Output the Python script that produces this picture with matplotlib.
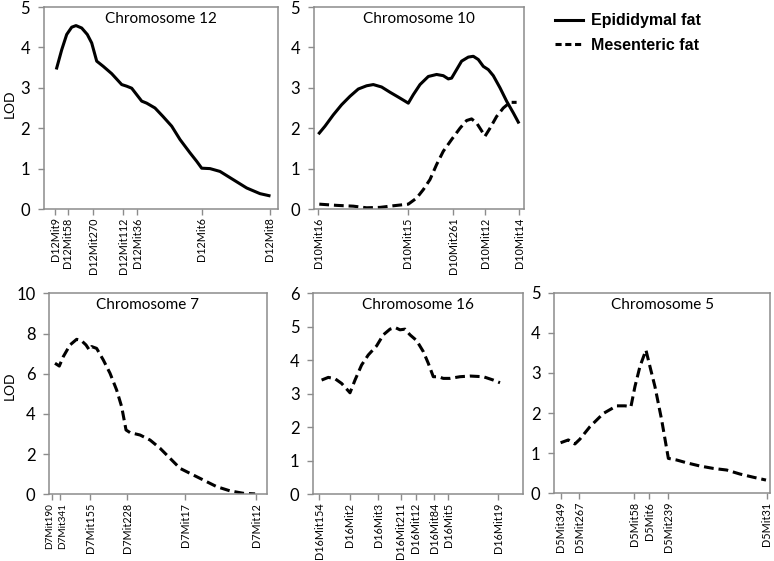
import matplotlib
matplotlib.use("Agg")
import matplotlib.pyplot as plt
from matplotlib.lines import Line2D
from matplotlib.transforms import ScaledTranslation

W, H = 774, 561

# ---------------- data ----------------
# Chromosome 12 (epididymal fat)
chr12_markers = ["D12Mit9", "D12Mit58", "D12Mit270", "D12Mit112", "D12Mit36", "D12Mit6", "D12Mit8"]
chr12_marker_pos = [0, 13, 38, 68, 82, 147, 215]
chr12_x = [1.7, 6.7, 11.7, 16.7, 21, 26.7, 32.3, 36.7, 41.7, 48.3, 56.7, 66.7, 71.7, 76.7, 81.7,
           86.7, 91.7, 100, 108, 116.7, 125, 135, 141.7, 146.7, 155, 165, 178, 191.7, 205, 214]
chr12_epi = [3.49, 3.94, 4.32, 4.50, 4.54, 4.48, 4.32, 4.11, 3.66, 3.53, 3.35, 3.08, 3.04, 2.99, 2.83,
             2.67, 2.62, 2.50, 2.29, 2.05, 1.72, 1.39, 1.18, 1.01, 1.00, 0.93, 0.73, 0.52, 0.38, 0.33]

# Chromosome 10 (both)
chr10_markers = ["D10Mit16", "D10Mit15", "D10Mit261", "D10Mit12", "D10Mit14"]
chr10_marker_pos = [0, 89.3, 135, 166.7, 201]
chr10_x_epi = [1, 6.7, 15, 23.3, 31.7, 40, 48.3, 55, 63.3, 71.7, 80, 86.7, 90, 95, 101.7, 110,
               118.3, 125, 130, 133.3, 138.3, 143.3, 150, 155, 160, 165, 170, 175, 181.7, 188.3,
               195, 200]
chr10_epi = [1.88, 2.05, 2.33, 2.58, 2.79, 2.97, 3.05, 3.08, 3.02, 2.89, 2.77, 2.67, 2.62, 2.83, 3.08,
             3.28, 3.33, 3.30, 3.22, 3.24, 3.45, 3.66, 3.76, 3.78, 3.70, 3.53, 3.45, 3.30, 3.00, 2.67,
             2.38, 2.15]
chr10_x_mes = [1, 18.3, 35, 48.3, 61.7, 75, 90, 98.3, 105, 111.7, 118.3, 125, 133.3, 141.7, 148.3,
               153.3, 158.3, 162.7, 166.7, 171.7, 178.3, 185, 191.7, 198.3]
chr10_mes = [0.12, 0.09, 0.07, 0.03, 0.04, 0.08, 0.12, 0.27, 0.48, 0.73, 1.10, 1.43, 1.72, 2.00, 2.19,
             2.23, 2.13, 1.96, 1.80, 2.00, 2.29, 2.50, 2.64, 2.64]

# Chromosome 7 (mesenteric fat)
chr7_markers = ["D7Mit190", "D7Mit341", "D7Mit155", "D7Mit228", "D7Mit17", "D7Mit12"]
chr7_marker_pos = [0, 7.7, 37.7, 75, 132.7, 203.7]
chr7_x = [2.7, 7, 11, 17.7, 24.3, 29, 33.7, 37, 39.3, 44.3, 51, 57.7, 64.3, 69.3, 73.7, 77.7, 87.7,
          97.7, 107.7, 117.7, 127.7, 137.7, 151, 164.3, 177.7, 191, 202.7]
chr7_mes = [6.52, 6.38, 6.85, 7.43, 7.71, 7.65, 7.43, 7.18, 7.35, 7.26, 6.68, 6.02, 5.19, 4.36, 3.20,
            3.07, 2.95, 2.70, 2.29, 1.79, 1.29, 1.04, 0.71, 0.38, 0.17, 0.05, 0.02]

# Chromosome 16 (mesenteric fat)
chr16_markers = ["D16Mit154", "D16Mit2", "D16Mit3", "D16Mit211", "D16Mit12", "D16Mit84", "D16Mit5", "D16Mit19"]
chr16_marker_pos = [0, 30.7, 59, 81.3, 96.3, 115, 129, 179]
chr16_x = [2.3, 9, 15.7, 22.3, 30.7, 35.7, 42.3, 49, 57.3, 64, 70.7, 75.7, 80.7, 85.7, 90.7, 97.3,
           104, 109, 114, 119, 124, 130.7, 140.7, 150.7, 164, 174, 180.7]
chr16_mes = [3.41, 3.49, 3.45, 3.31, 3.03, 3.41, 3.86, 4.16, 4.43, 4.76, 4.93, 4.98, 4.91, 4.93, 4.76,
             4.59, 4.26, 3.91, 3.51, 3.51, 3.46, 3.46, 3.51, 3.53, 3.51, 3.41, 3.33]

# Chromosome 5 (mesenteric fat)
chr5_markers = ["D5Mit349", "D5Mit267", "D5Mit58", "D5Mit6", "D5Mit239", "D5Mit31"]
chr5_marker_pos = [0, 18.7, 73.7, 88.7, 107.7, 206]
chr5_x = [0, 7.7, 14.3, 19.3, 29.3, 42.7, 56, 64.3, 70.3, 74.3, 79.3, 85.3, 89.3, 94.3, 101, 107.7,
          116, 126, 139.3, 152.7, 166, 179.3, 192.7, 205.3]
chr5_mes = [1.26, 1.33, 1.23, 1.35, 1.66, 1.99, 2.18, 2.18, 2.16, 2.66, 3.16, 3.57, 3.16, 2.66, 1.83,
            0.87, 0.83, 0.76, 0.68, 0.62, 0.58, 0.48, 0.40, 0.33]

legend_labels = ["Epididymal fat", "Mesenteric fat"]

# ---------------- style ----------------
LW = 2.2
DASH = (3.2, 1.6)
SPINE = "#8c8c8c"
TXT_FONT = ["Lato", "DejaVu Sans"]

fig = plt.figure(figsize=(W / 100, H / 100), dpi=100)


def make_ax(left, right, top, bottom):
    return fig.add_axes([left / W, 1 - bottom / H, (right - left) / W, (bottom - top) / H])


def style(ax, title, markers, mpos, xlim, ylim, yticks, title_x=0.5):
    ax.set_xlim(*xlim)
    ax.set_ylim(*ylim)
    ax.set_yticks(yticks)
    ax.set_yticklabels([str(v) for v in yticks], fontsize=12, family=TXT_FONT)
    ax.set_xticks(mpos)
    ax.set_xticklabels(markers, rotation=90, fontsize=7.8, family=TXT_FONT)
    for s in ax.spines.values():
        s.set_color(SPINE)
        s.set_linewidth(1.1)
    ax.tick_params(axis="both", color=SPINE, width=1.0, length=4, direction="out")
    ax.tick_params(axis="x", pad=2)
    ax.tick_params(axis="y", pad=6)
    ax.text(title_x, 0.975, title, transform=ax.transAxes, ha="center", va="top",
            fontsize=11, family=TXT_FONT)


# Chromosome 12
ax1 = make_ax(44, 278, 7, 209)
ax1.plot(chr12_x, chr12_epi, color="black", lw=LW)
style(ax1, "Chromosome 12", chr12_markers, chr12_marker_pos, (-11, 223), (0, 5), [0, 1, 2, 3, 4, 5])

# Chromosome 10
ax2 = make_ax(314, 524, 7, 209)
ax2.plot(chr10_x_epi, chr10_epi, color="black", lw=LW)
ax2.plot(chr10_x_mes, chr10_mes, color="black", lw=LW, linestyle=(0, DASH))
style(ax2, "Chromosome 10", chr10_markers, chr10_marker_pos, (-4.3, 205.7), (0, 5), [0, 1, 2, 3, 4, 5])

# Chromosome 7
ax3 = make_ax(49.3, 266.7, 293.3, 494.3)
ax3.plot(chr7_x, chr7_mes, color="black", lw=LW, linestyle=(0, DASH))
style(ax3, "Chromosome 7", chr7_markers, chr7_marker_pos, (-3, 214.3), (0, 10), [0, 2, 4, 6, 8, 10],
      title_x=0.45)
# the two closely spaced marker labels: nudge apart slightly
labs = ax3.get_xticklabels()
for lab, dx in ((labs[0], -2.2), (labs[1], 2.2)):
    lab.set_fontsize(7.2)
    lab.set_transform(lab.get_transform() + ScaledTranslation(dx / 100, 0, fig.dpi_scale_trans))

# Chromosome 16
ax4 = make_ax(313.3, 523.3, 293.3, 494.3)
ax4.plot(chr16_x, chr16_mes, color="black", lw=LW, linestyle=(0, DASH))
style(ax4, "Chromosome 16", chr16_markers, chr16_marker_pos, (-6, 204), (0, 6), [0, 1, 2, 3, 4, 5, 6])

# Chromosome 5
ax5 = make_ax(554.3, 770, 292.7, 493.3)
ax5.plot(chr5_x, chr5_mes, color="black", lw=LW, linestyle=(0, DASH))
style(ax5, "Chromosome 5", chr5_markers, chr5_marker_pos, (-6.3, 209.3), (0, 5), [0, 1, 2, 3, 4, 5])

# y-axis labels (LOD)
for ycen in (104, 386):
    fig.text(10 / W, 1 - ycen / H, "LOD", rotation=90, ha="center", va="center",
             fontsize=10, family=TXT_FONT)

# Legend
h1 = Line2D([], [], color="black", lw=LW)
h2 = Line2D([], [], color="black", lw=LW, linestyle=(0, (2.0, 1.2)))
fig.legend([h1, h2], legend_labels, loc="upper left",
           bbox_to_anchor=(541 / W, 1 + 1 / H), frameon=False,
           handlelength=1.75, handletextpad=0.45, labelspacing=0.6,
           prop={"family": ["Liberation Sans", "DejaVu Sans"], "size": 11.5, "weight": "bold"})

fig.savefig("out.png", dpi=100)
